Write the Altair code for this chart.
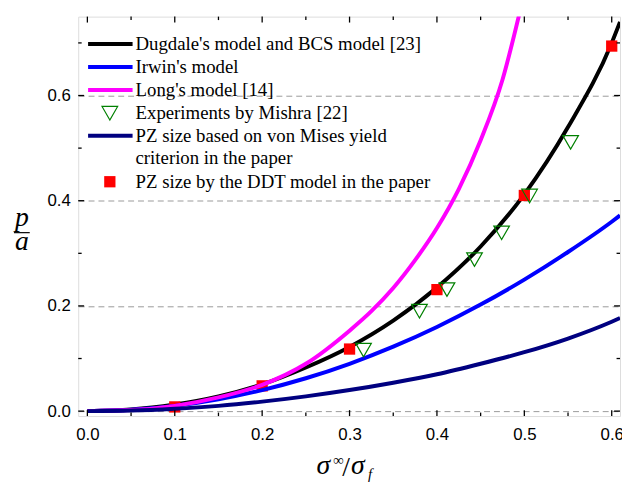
import altair as alt
import pandas as pd

# ---- data ----
xs_curve = [0, 0.05, 0.1, 0.15, 0.2, 0.25, 0.3, 0.35, 0.4, 0.45, 0.5, 0.55, 0.6, 0.6095]
dugdale = [0, 0.003, 0.0125, 0.028, 0.051, 0.083, 0.122, 0.172, 0.235, 0.313, 0.412, 0.54, 0.70, 0.74]
irwin = [0, 0.0025, 0.01, 0.0225, 0.04, 0.0625, 0.09, 0.1225, 0.16, 0.2025, 0.25, 0.3025, 0.36, 0.372]
vonmises = [0, 0.001, 0.0045, 0.01, 0.018, 0.028, 0.04, 0.054, 0.07, 0.09, 0.112, 0.138, 0.17, 0.177]
long_x = [0, 0.05, 0.1, 0.15, 0.2, 0.25, 0.3, 0.325, 0.35, 0.375, 0.4, 0.425, 0.45, 0.475, 0.495]
long_y = [0, 0.002, 0.01, 0.026, 0.05, 0.09, 0.153, 0.19, 0.234, 0.287, 0.348, 0.422, 0.515, 0.63, 0.76]

exp_x = [0.316, 0.38, 0.4115, 0.443, 0.474, 0.506, 0.553]
exp_y = [0.116, 0.19, 0.231, 0.288, 0.339, 0.409, 0.511]

ddt_x = [0.1, 0.2, 0.3, 0.4, 0.5, 0.6]
ddt_y = [0.008, 0.048, 0.118, 0.231, 0.41, 0.694]

major_x = [0.0, 0.1, 0.2, 0.3, 0.4, 0.5, 0.6]
minor_x = [0.05, 0.15, 0.25, 0.35, 0.45, 0.55]
major_y = [0.0, 0.2, 0.4, 0.6]
minor_y = [0.1, 0.3, 0.5, 0.7]

legend_labels = [
    "Dugdale's model and BCS model [23]",
    "Irwin's model",
    "Long's model [14]",
    "Experiments by Mishra [22]",
    "PZ size based on von Mises yield",
    "criterion in the paper",
    "PZ size by the DDT model in the paper",
]

W, H = 548, 404
XDOM = [-0.0105, 0.6095]
YDOM = [-0.0094, 0.75]
SERIF = "Liberation Serif"
SANS = "Liberation Sans"

xs = alt.Scale(domain=XDOM, nice=False, zero=False)
ys = alt.Scale(domain=YDOM, nice=False, zero=False)

x_axis = alt.Axis(values=major_x, format=".1f", ticks=False, tickSize=0, domain=False,
                  grid=False, labelFont=SANS, labelFontSize=17, labelColor="black",
                  labelPadding=10.5, title=None, labelFlush=False)
y_axis = alt.Axis(values=major_y, format=".1f", ticks=False, tickSize=0, domain=False,
                  grid=True, gridDash=[6, 4], gridColor="#9a9a9a", gridWidth=1,
                  labelFont=SANS, labelFontSize=17, labelColor="black",
                  labelPadding=8, title=None, labelFlush=False)


def X(field):
    return alt.X(field, type="quantitative", scale=xs, axis=x_axis)


def Y(field):
    return alt.Y(field, type="quantitative", scale=ys, axis=y_axis)


def curve(xv, yv, color):
    df = pd.DataFrame({"x": xv, "y": yv})
    return alt.Chart(df).mark_line(color=color, strokeWidth=4, interpolate="monotone",
                                   clip=True).encode(x=X("x"), y=Y("y"))


black = curve(xs_curve, dugdale, "black")
blue = curve(xs_curve, irwin, "#0000ff")
magenta = curve(long_x, long_y, "#ff00ff")
navy = curve(xs_curve, vonmises, "#000080")

squares = alt.Chart(pd.DataFrame({"x": ddt_x, "y": ddt_y})).mark_point(
    shape="square", filled=True, color="#ff0000", size=130, opacity=1
).encode(x=X("x"), y=Y("y"))

triangles = alt.Chart(pd.DataFrame({"x": exp_x, "y": exp_y})).mark_point(
    shape="triangle-down", filled=False, color="#008000", size=250, strokeWidth=1.2, opacity=1
).encode(x=X("x"), y=Y("y"))

# ---- inward ticks on four sides ----
def xticks(vals, length):
    df = pd.DataFrame({"v": vals})
    b = alt.Chart(df).mark_rule(color="black", strokeWidth=1.3).encode(
        x=X("v"), y=alt.value(H), y2=alt.value(H - length))
    t = alt.Chart(df).mark_rule(color="black", strokeWidth=1.3).encode(
        x=X("v"), y=alt.value(0), y2=alt.value(length))
    return [b, t]


def yticks(vals, length):
    df = pd.DataFrame({"v": vals})
    l = alt.Chart(df).mark_rule(color="black", strokeWidth=1.3).encode(
        y=Y("v"), x=alt.value(0), x2=alt.value(length))
    r = alt.Chart(df).mark_rule(color="black", strokeWidth=1.3).encode(
        y=Y("v"), x=alt.value(W), x2=alt.value(W - length))
    return [l, r]


ticks = xticks(major_x, 6) + xticks(minor_x, 3.5) + yticks(major_y, 6) + yticks(minor_y, 3.5)

# ---- legend ----
one = pd.DataFrame({"a": [0]})
row_y = [27.7, 51, 74.3, 97.7, 120.5, 143, 167]
LX1, LX2, TX, MX = 10, 55, 58, 32


def leg_line(color, yy):
    return alt.Chart(one).mark_rule(color=color, strokeWidth=4).encode(
        x=alt.value(LX1), x2=alt.value(LX2), y=alt.value(yy))


def leg_text(txt, yy):
    return alt.Chart(one).mark_text(text=txt, font=SERIF, fontSize=19, align="left",
                                    baseline="middle", color="black").encode(
        x=alt.value(TX), y=alt.value(yy))


legend = [
    leg_line("black", row_y[0]),
    leg_line("#0000ff", row_y[1]),
    leg_line("#ff00ff", row_y[2]),
    alt.Chart(one).mark_point(shape="triangle-down", filled=False, color="#008000", size=250,
                              strokeWidth=1.2, opacity=1).encode(x=alt.value(MX), y=alt.value(row_y[3])),
    leg_line("#000080", row_y[4]),
    alt.Chart(one).mark_point(shape="square", filled=True, color="#ff0000", size=130,
                              opacity=1).encode(x=alt.value(MX), y=alt.value(row_y[6])),
]
legend += [leg_text(t, yy) for t, yy in zip(legend_labels, row_y)]

# ---- axis titles ----
def txt(s, x, y, size, italic=True, align="left"):
    return alt.Chart(one).mark_text(text=s, font=SERIF, fontSize=size,
                                    fontStyle="italic" if italic else "normal",
                                    align=align, baseline="alphabetic", color="black").encode(
        x=alt.value(x), y=alt.value(y))


titles = [
    txt("p", -57, 212, 28, align="center"),
    alt.Chart(one).mark_rule(color="black", strokeWidth=1.2).encode(
        x=alt.value(-65), x2=alt.value(-49), y=alt.value(218.5)),
    txt("a", -57, 236, 28, align="center"),
    txt("σ", 241, 463, 28),
    txt("∞", 258, 453, 15, italic=False),
    txt("/", 267, 465, 28, italic=False),
    txt("σ", 276, 463, 28),
    txt("f", 293, 468, 15),
]

chart = alt.layer(
    black, squares, blue, magenta, navy, triangles, *ticks, *legend, *titles
).properties(
    width=W, height=H,
    autosize=alt.AutoSizeParams(type="none"),
    padding={"left": 71, "top": 6, "right": 2, "bottom": 66},
).configure_view(stroke="black", strokeWidth=1.5).configure(background="white")

chart.save("out.html", embed_options={"renderer": "svg", "actions": False})
